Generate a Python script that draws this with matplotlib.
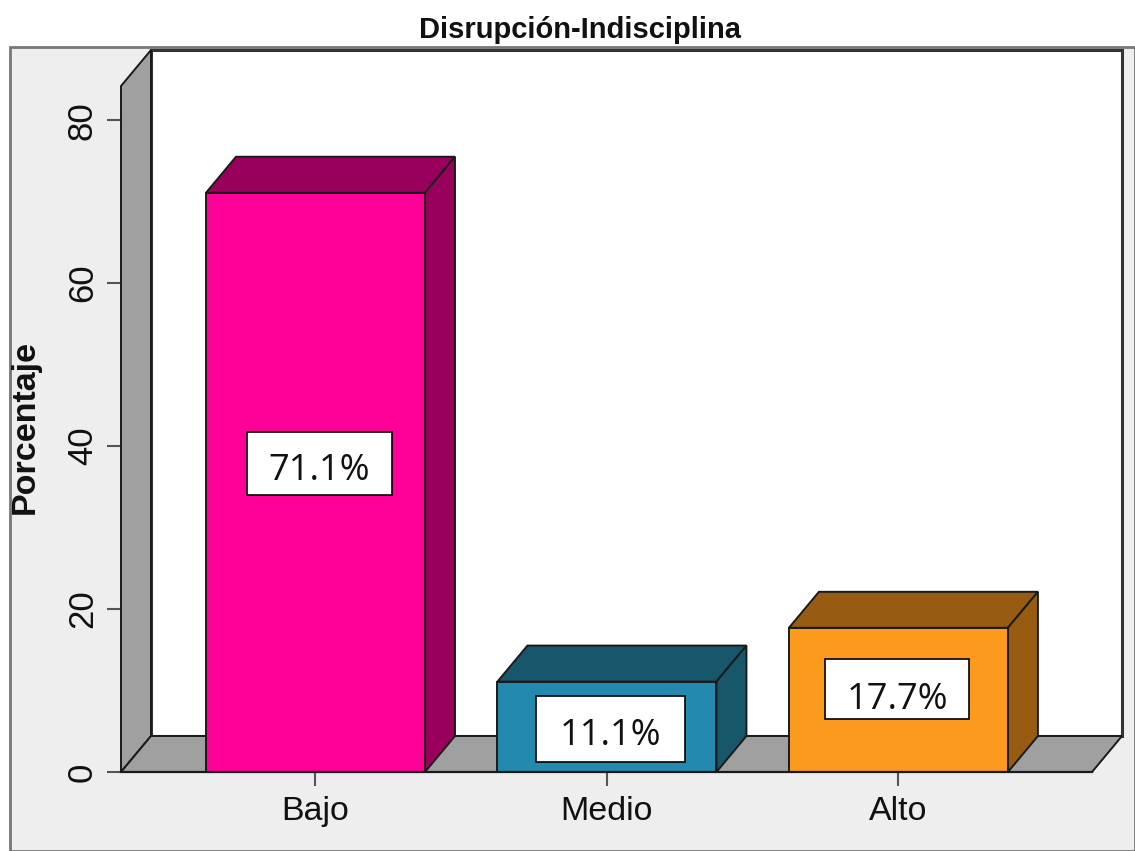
import matplotlib
matplotlib.use('Agg')
import matplotlib.pyplot as plt
from matplotlib.patches import Polygon, Rectangle

categories = ['Bajo', 'Medio', 'Alto']
values = [71.1, 11.1, 17.7]
value_labels = ['71.1%', '11.1%', '17.7%']
y_ticks = [0, 20, 40, 60, 80]

front_colors = ['#FF0099', '#2389AE', '#FC9A1E']
top_colors = ['#99005C', '#17566B', '#975C12']
side_colors = ['#99005C', '#17566B', '#975C12']

W, H = 1135, 851
plt.rcParams['font.family'] = ['Liberation Sans', 'DejaVu Sans']

fig = plt.figure(figsize=(W / 100, H / 100), dpi=100, facecolor='white')


def px_rect(x0, y0, x1, y1):
    # pixel box (y from top) -> figure fractions
    return [x0 / W, 1 - y1 / H, (x1 - x0) / W, (y1 - y0) / H]


# grey panel behind the chart
fig.patches.append(Rectangle((10 / W, 0), 1 - 10 / W, 1 - 47 / H, transform=fig.transFigure,
                             facecolor='#EEEEEE', edgecolor='#777777', linewidth=2, zorder=-1))

# front plane of the 3D box
ax = fig.add_axes(px_rect(121, 86, 1092, 772))
ax.set_facecolor('none')
ax.set_xlim(-0.6673, 2.6641)
ax.set_ylim(0, 84.2)

# depth of the fake 3D, in data units
dx = 30 / 291.5
dy = 36 / 8.15
xl, xr = ax.get_xlim()
yb, yt = ax.get_ylim()
edge = '#1A1A1A'

# back wall, left wall, floor
ax.add_patch(Polygon([(xl + dx, yb + dy), (xr + dx, yb + dy), (xr + dx, yt + dy), (xl + dx, yt + dy)],
                     facecolor='white', edgecolor='#333333', lw=2.2, clip_on=False, zorder=1))
ax.add_patch(Polygon([(xl, yb), (xl + dx, yb + dy), (xl + dx, yt + dy), (xl, yt)],
                     facecolor='#A0A0A0', edgecolor=edge, lw=1.4, clip_on=False, zorder=2))
ax.add_patch(Polygon([(xl, yb), (xr, yb), (xr + dx, yb + dy), (xl + dx, yb + dy)],
                     facecolor='#A0A0A0', edgecolor=edge, lw=1.4, clip_on=False, zorder=2))

# bars
width = 219 / 291.5
bars = ax.bar(range(len(values)), values, width=width, color=front_colors,
              edgecolor=edge, linewidth=1.4, zorder=4)
for b, top_c, side_c in zip(bars, top_colors, side_colors):
    x0, x1 = b.get_x(), b.get_x() + b.get_width()
    h = b.get_height()
    ax.add_patch(Polygon([(x0, h), (x1, h), (x1 + dx, h + dy), (x0 + dx, h + dy)],
                         facecolor=top_c, edgecolor=edge, lw=1.4, clip_on=False, zorder=3))
    ax.add_patch(Polygon([(x1, 0), (x1 + dx, dy), (x1 + dx, h + dy), (x1, h)],
                         facecolor=side_c, edgecolor=edge, lw=1.4, clip_on=False, zorder=3))

for s in ['top', 'right', 'left']:
    ax.spines[s].set_visible(False)
ax.spines['bottom'].set_color(edge)
ax.spines['bottom'].set_linewidth(1.6)
ax.spines['bottom'].set_zorder(5)

ax.set_xticks(range(len(categories)))
ax.set_xticklabels(categories)
ax.set_yticks(y_ticks)
ax.tick_params(axis='x', length=10, width=1.5, color='#555555', labelsize=24.5, pad=7, labelcolor='#111111')
ax.tick_params(axis='y', length=10, width=1.5, color='#555555', labelsize=25, pad=6, labelcolor='#111111')
for t in ax.get_yticklabels():
    t.set_rotation(90)
    t.set_va('center')

fig.text(580 / W, 1 - 30 / H, 'Disrupción-Indisciplina', fontsize=21, fontweight='bold',
         ha='center', va='center', color='#111111')
fig.text(25 / W, 1 - 427 / H, 'Porcentaje', fontsize=24.5, fontweight='bold', rotation=90,
         ha='center', va='center', color='#111111')

# white value boxes pasted over the bars
boxes = [(247, 432, 392, 495), (536, 696, 685, 762), (825, 659, 969, 719)]
text_drop = [7, 7, 11]
for (x0, y0, x1, y1), lab, drop in zip(boxes, value_labels, text_drop):
    fig.patches.append(Rectangle((x0 / W, 1 - y1 / H), (x1 - x0) / W, (y1 - y0) / H,
                                 transform=fig.transFigure, facecolor='white',
                                 edgecolor='black', linewidth=1.2, zorder=10))
    fig.text((x0 + x1) / 2 / W, 1 - ((y0 + y1) / 2 + drop) / H, lab, fontsize=26, family=['Open Sans', 'DejaVu Sans'],
             ha='center', va='center', color='#111111', zorder=11)

fig.savefig('out.png', dpi=100, facecolor='white')
